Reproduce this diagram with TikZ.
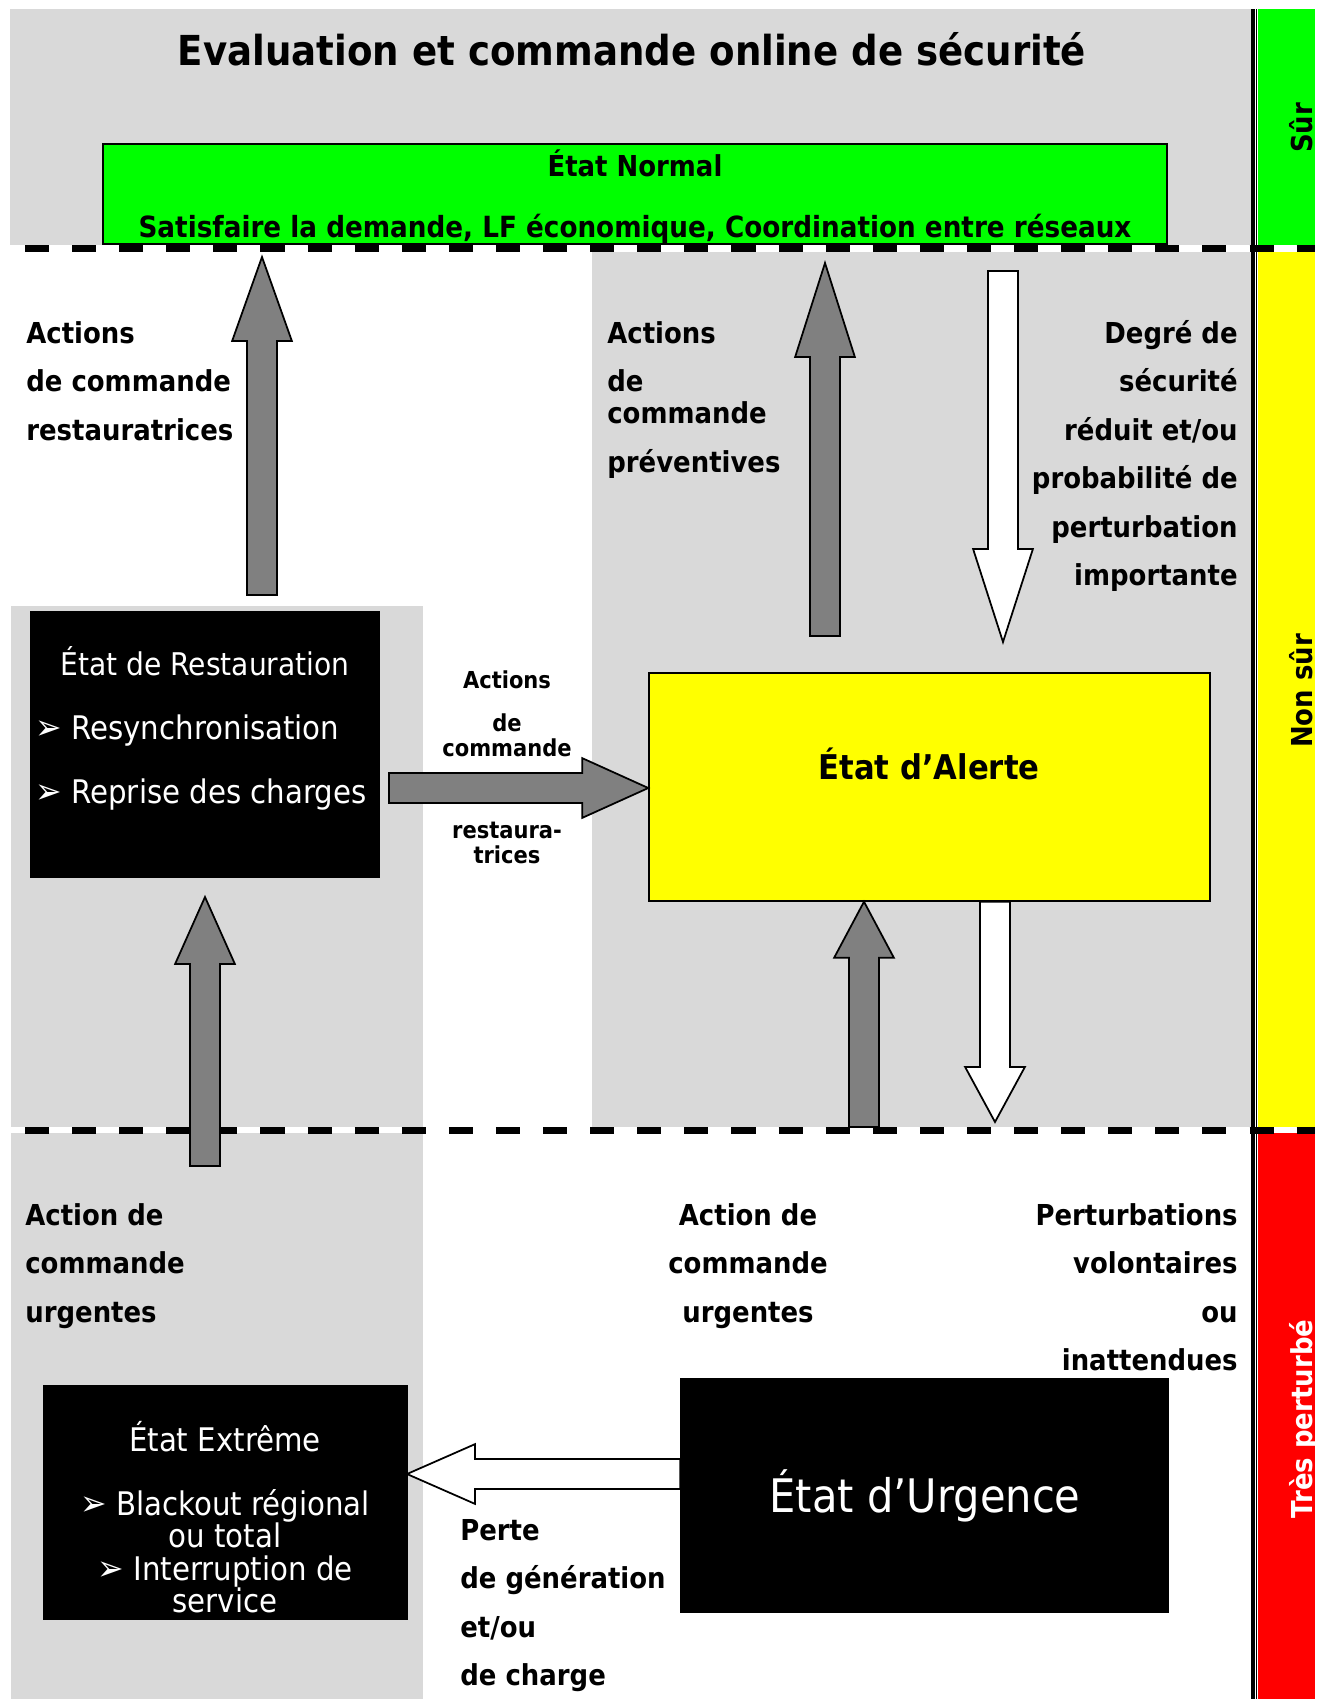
\documentclass[tikz,border=0pt]{standalone}
\usepackage{fontspec}
\setmainfont{DejaVu Sans}[FakeStretch=0.9]
\usetikzlibrary{calc}

\definecolor{panelgray}{RGB}{217,217,217}
\definecolor{arrowgray}{RGB}{128,128,128}
\definecolor{safegreen}{RGB}{0,255,0}
\definecolor{alertyellow}{RGB}{255,255,0}
\definecolor{dangerred}{RGB}{255,0,0}

\tikzset{
  statebox/.style={draw=black, line width=0.8pt, inner sep=0pt},
  lbl/.style={font=\fontsize{16.4}{27.6}\selectfont\bfseries, inner sep=0pt},
  smalllbl/.style={font=\fontsize{13.3}{14.2}\selectfont\bfseries, inner sep=0pt, align=center},
  boxtxt/.style={font=\fontsize{18.5}{18.4}\selectfont, text=white, inner sep=0pt},
  bandtxt/.style={font=\fontsize{16.4}{20}\selectfont\bfseries, rotate=90, anchor=base, inner sep=0pt},
  sepline/.style={line width=3.7pt, dash pattern=on 13.7pt off 13.1pt},
}

% block arrow: fill, tail, tip, head length
\newcommand{\blockarrow}[4]{%
  \draw[fill=#1, line width=1pt, line join=miter]
    let \p1=(#2), \p2=(#3), \n1={atan2(\y2-\y1,\x2-\x1)}, \n2={veclen(\x2-\x1,\y2-\y1)} in
    [shift={(\p1)}, rotate=\n1]
    (0pt,-8.5pt) -- ({\n2-#4},-8.5pt) -- ({\n2-#4},-17pt) -- ({\n2+0pt},0pt)
    -- ({\n2-#4},17pt) -- ({\n2-#4},8.5pt) -- (0pt,8.5pt) -- cycle;}
\newcommand{\arrowbullet}{\makebox[20.5pt][l]{\fontsize{20}{18}\selectfont ➢}}

\begin{document}
\begin{tikzpicture}[x=0.2mm, y=-0.2mm]
  \useasboundingbox (0,0) rectangle (1324,1699);

  % grey panels
  \fill[panelgray] (10,9) rectangle (1251,245);
  \fill[panelgray] (592,252) rectangle (1251,1127);
  \fill[panelgray] (11,606) rectangle (423,1127);
  \fill[panelgray] (11,1133) rectangle (423,1699);

  % security band
  \fill[safegreen] (1258,9) rectangle (1315,245);
  \fill[alertyellow] (1258,252) rectangle (1315,1127);
  \fill[dangerred] (1258,1133) rectangle (1315,1699);
  \draw[sepline] (25,248.5) -- (1315,248.5);
  \draw[sepline] (25,1130.5) -- (1315,1130.5);
  \draw[line width=2.3pt] (1253,9) -- (1253,1699);
  \draw[line width=0.75pt] (1256.7,9) -- (1256.7,1699);
  \node[bandtxt] (sur) at (1312,128) {Sûr};
  \node[bandtxt] (nonsur) at (1312,691) {Non sûr};
  \node[bandtxt, text=white] (perturbe) at (1312,1419) {Très perturbé};

  \node[font=\fontsize{23.5}{27}\selectfont\bfseries, inner sep=0pt] (title) at (632,49)
    {Evaluation et commande online de sécurité};

  % states
  \node[statebox, fill=safegreen, minimum width=212.8mm, minimum height=20mm] (normal) at (635,194) {};
  \node[lbl] (normalname) at (635,163) {État Normal};
  \node[lbl, font=\fontsize{16.6}{20}\selectfont\bfseries] (normalgoal) at (635,229)
    {Satisfaire la demande, LF économique, Coordination entre réseaux};

  \node[statebox, fill=alertyellow, minimum width=112.2mm, minimum height=45.6mm] (alerte) at (929.5,787) {};
  \node[font=\fontsize{19.4}{22}\selectfont\bfseries, inner sep=0pt] (alertename) at (929,764) {État d’Alerte};

  \node[statebox, fill=black, minimum width=69.6mm, minimum height=53mm] (rest) at (205,744.5) {};
  \node[boxtxt, font=\fontsize{17.8}{18}\selectfont] (restname) at (205,661) {État de Restauration};
  \node[boxtxt, anchor=west] (resync) at (35,731) {\arrowbullet Resynchronisation};
  \node[boxtxt, anchor=west] (reprise) at (35,795) {\arrowbullet Reprise des charges};

  \node[statebox, fill=black, minimum width=72.6mm, minimum height=46.6mm] (extreme) at (225.5,1502.5) {};
  \node[boxtxt] (extremename) at (225,1437) {État Extrême};
  \node[boxtxt, anchor=north, align=center] (extremelist) at (225,1489)
    {\arrowbullet Blackout régional\\ou total\\\arrowbullet Interruption de\\service};

  \node[statebox, fill=black, minimum width=97.4mm, minimum height=46.6mm] (urgence) at (924.5,1495.5) {};
  \node[boxtxt, font=\fontsize{26.3}{28}\selectfont] (urgencename) at (925,1496) {État d’Urgence};

  % labels
  \node[lbl, anchor=north west, align=left] (restlbl) at (26,321) {Actions\\de commande\\restauratrices};
  \node[lbl, anchor=north west, align=left] (prevlbl) at (607,321) {Actions\\de\\[-9.4pt]commande\\préventives};
  \node[lbl, anchor=north east, align=right] (degradlbl) at (1238,320)
    {Degré de\\sécurité\\réduit et/ou\\probabilité de\\perturbation\\importante};
  \node[smalllbl, anchor=north] (midtop) at (507,670) {Actions\\[10.3pt]de\\commande};
  \node[smalllbl, anchor=north] (midbot) at (507,822) {restaura-\\trices};
  \node[lbl, anchor=north west, align=left] (urglbl) at (25,1203) {Action de\\commande\\urgentes};
  \node[lbl, anchor=north, align=center] (urgmidlbl) at (748,1203) {Action de\\commande\\urgentes};
  \node[lbl, anchor=north east, align=right] (perturblbl) at (1238,1203)
    {Perturbations\\volontaires\\ou\\inattendues};
  \node[lbl, anchor=north west, align=left] (losslbl) at (460,1519) {Perte\\de génération\\et/ou\\de charge};

  % arrow ends
  \coordinate (restUp) at (262,595);
  \coordinate (normalIn) at (262,257);
  \coordinate (prevUp) at (825,636);
  \coordinate (prevTip) at (825,263);
  \coordinate (degradTail) at (1003,271);
  \coordinate (degradTip) at (1003,642);
  \coordinate (restOut) at (389,788);
  \coordinate (urgUp) at (864,1127);
  \coordinate (alerteDown) at (995,1122);
  \coordinate (extremeUp) at (205,1166);
  \coordinate (restIn) at (205,897);
  \coordinate (extremeIn) at (407,1474);

  \blockarrow{arrowgray}{restUp}{normalIn}{47.8pt}
  \blockarrow{arrowgray}{prevUp}{prevTip}{53.5pt}
  \blockarrow{white}{degradTail}{degradTip}{52.9pt}
  \blockarrow{arrowgray}{restOut}{restOut -| alerte.west}{37.6pt}
  \blockarrow{arrowgray}{urgUp}{urgUp |- alerte.south}{31.9pt}
  \blockarrow{white}{alerteDown |- alerte.south}{alerteDown}{31.3pt}
  \blockarrow{arrowgray}{extremeUp}{restIn}{38.1pt}
  \blockarrow{white}{extremeIn -| urgence.west}{extremeIn}{38.7pt}
\end{tikzpicture}
\end{document}
